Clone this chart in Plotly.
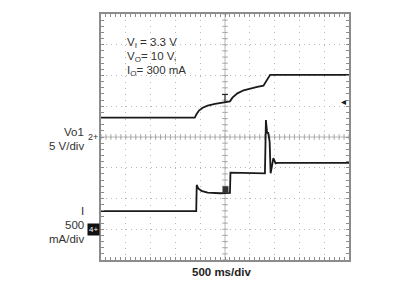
import numpy as np
import plotly.graph_objects as go

# ---- data (time in divisions, 500 ms/div; amplitude in divisions) ----
vo_t = [0.0, 3.78, 3.85, 3.95, 4.1, 4.3, 4.6, 4.9, 5.0, 5.2, 5.3, 5.5, 5.75, 6.0, 6.3, 6.55, 6.62, 6.75, 6.82, 10.0]
vo_y = [4.63, 4.63, 4.74, 4.86, 4.95, 5.02, 5.08, 5.12, 5.14, 5.16, 5.28, 5.42, 5.52, 5.58, 5.63, 5.67, 5.76, 5.95, 6.02, 6.02]

io_t = [0.0, 3.84, 3.86, 3.92, 4.05, 4.3, 4.8, 5.2, 5.22, 6.0, 6.55, 6.61, 6.65, 6.7, 6.74, 6.8, 6.84, 6.9, 6.95, 7.04, 7.1, 10.0]
io_y = [1.59, 1.59, 2.44, 2.33, 2.25, 2.19, 2.17, 2.18, 2.84, 2.83, 2.80, 2.82, 4.55, 4.12, 4.15, 3.85, 2.82, 3.1, 3.31, 3.14, 3.16, 3.16]

# scope markers
trig_t = [5.0, 5.0]
trig_y = [5.14, 5.38]
trigbar_t = [4.88, 5.12]
trigbar_y = [5.38, 5.38]
sq_t = [5.02]
sq_y = [2.3]

ch1_ground = 4.0
ch4_ground = 1.0
trig_level = 5.15

annot_lines = ["V<sub>I</sub> = 3.3 V", "V<sub>O</sub>= 10 V,", "I<sub>O</sub>= 300 mA"]

INK = "#1a1a1a"
FRAME = "#8c8c8c"
GRID = "#b8b8b8"
XDIV, YDIV = 10.0, 8.0

fig = go.Figure()

# centre cross ticks
cx = np.arange(0, 10.001, 0.2)
cy = np.arange(0, 8.001, 0.2)
fig.add_trace(go.Scatter(x=cx, y=[4] * len(cx), mode="markers",
                         marker=dict(symbol="line-ns", size=4, line=dict(color="#a8a8a8", width=1)),
                         hoverinfo="skip"))
fig.add_trace(go.Scatter(x=[5] * len(cy), y=cy, mode="markers",
                         marker=dict(symbol="line-ew", size=4, line=dict(color="#a8a8a8", width=1)),
                         hoverinfo="skip"))

fig.add_trace(go.Scatter(x=vo_t, y=vo_y, mode="lines", line=dict(color=INK, width=1.8)))
fig.add_trace(go.Scatter(x=io_t, y=io_y, mode="lines", line=dict(color=INK, width=1.8)))
fig.add_trace(go.Scatter(x=trig_t, y=trig_y, mode="lines", line=dict(color=INK, width=1)))
fig.add_trace(go.Scatter(x=trigbar_t, y=trigbar_y, mode="lines", line=dict(color=INK, width=1)))
fig.add_trace(go.Scatter(x=sq_t, y=sq_y, mode="markers",
                         marker=dict(symbol="square", size=6, color="#333")))

# centre lines
fig.add_shape(type="line", x0=0, x1=10, y0=4, y1=4, line=dict(color="#b8b8b8", width=1), layer="below")
fig.add_shape(type="line", x0=5, x1=5, y0=0, y1=8, line=dict(color="#b8b8b8", width=1), layer="below")

axis_common = dict(showticklabels=False, zeroline=False, showline=True, linecolor=FRAME, linewidth=1.5,
                   mirror="allticks", ticks="inside", ticklen=3, tickcolor=FRAME, tickwidth=1,
                   showgrid=True, gridcolor=GRID, gridwidth=1, fixedrange=True)
fig.update_xaxes(range=[0, XDIV], dtick=1, tick0=0, griddash="1px,5.15px",
                 minor=dict(dtick=0.2, ticks="inside", ticklen=3, tickcolor=FRAME, showgrid=False),
                 **axis_common)
fig.update_yaxes(range=[0, YDIV], dtick=1, tick0=0, griddash="1px,3.96px",
                 minor=dict(dtick=0.2, ticks="inside", ticklen=3, tickcolor=FRAME, showgrid=False),
                 **axis_common)


def px(d):
    return d / XDIV


def py(d):
    return d / YDIV


font = dict(family="Liberation Sans, Arial, sans-serif", size=11.5, color="#333")
ann = []
for i, t in enumerate(annot_lines):
    ann.append(dict(x=px(0.97), y=py(7.07 - i * 0.455), xref="paper", yref="paper", text=t, showarrow=False,
                    xanchor="left", yanchor="middle", font=font))
for txt, yy in [("Vo1", 4.17), ("5 V/div", 3.72), ("I", 1.59), ("500", 1.14), ("mA/div", 0.68)]:
    ann.append(dict(x=px(-0.6), y=py(yy), xref="paper", yref="paper", text=txt, showarrow=False,
                    xanchor="right", yanchor="middle", font=font))
ann.append(dict(x=px(-0.05), y=py(ch1_ground), xref="paper", yref="paper", text="2+", showarrow=False,
                xanchor="right", yanchor="middle",
                font=dict(family="Liberation Sans, Arial", size=9, color="#333")))
ann.append(dict(x=px(-0.04), y=py(ch4_ground), xref="paper", yref="paper", text="4+", showarrow=False,
                xanchor="right", yanchor="middle", bgcolor="#111", borderpad=1,
                font=dict(family="Liberation Sans, Arial", size=8, color="white")))
ann.append(dict(x=px(9.97), y=py(trig_level), xref="paper", yref="paper", text="◂", showarrow=False,
                xanchor="right", yanchor="middle", font=dict(family="DejaVu Sans", size=10, color=INK)))
ann.append(dict(x=px(4.87), y=py(-0.38), xref="paper", yref="paper", text="<b>500 ms/div</b>", showarrow=False,
                xanchor="center", yanchor="middle",
                font=dict(family="Liberation Sans, Arial, sans-serif", size=11.5, color="#222")))

fig.update_layout(width=406, height=287, margin=dict(l=101, r=57, t=14, b=27),
                  paper_bgcolor="white", plot_bgcolor="white", showlegend=False,
                  annotations=ann)

fig.write_html("out.html")
